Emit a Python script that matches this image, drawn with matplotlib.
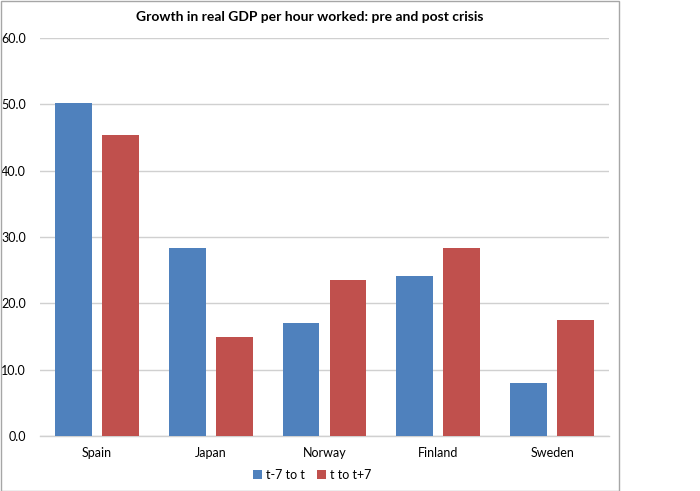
import matplotlib
matplotlib.use("Agg")
import matplotlib.pyplot as plt
import numpy as np
from matplotlib.patches import Rectangle

plt.rcParams['font.family'] = ['Lato', 'DejaVu Sans']

title = "Growth in real GDP per hour worked: pre and post crisis"
categories = ["Spain", "Japan", "Norway", "Finland", "Sweden"]
series_names = ["t-7 to t", "t to t+7"]
pre_values = [50.2, 28.3, 17.0, 24.1, 8.0]
post_values = [45.4, 14.9, 23.5, 28.3, 17.5]
colors = ["#4F81BD", "#C0504D"]
yticks = [0, 10, 20, 30, 40, 50, 60]

fig = plt.figure(figsize=(7.0, 4.91), dpi=100)
ax = fig.add_axes([40/700, 1-436/491, (609-40)/700, (436-38)/491])

x = np.arange(len(categories))
bw = 0.325
off = 0.2065
ax.bar(x - off, pre_values, width=bw, color=colors[0], label=series_names[0], zorder=3)
ax.bar(x + off, post_values, width=bw, color=colors[1], label=series_names[1], zorder=3)

ax.set_xlim(-0.5, len(categories) - 0.5)
ax.set_ylim(0, 60)
ax.set_yticks(yticks)
ax.set_yticklabels([f"{v:.1f}" for v in yticks])
ax.set_xticks(x)
ax.set_xticklabels(categories)
ax.tick_params(axis='both', length=0, labelsize=9, colors='#000000')
ax.tick_params(axis='y', pad=10)
ax.tick_params(axis='x', pad=8)
ax.yaxis.grid(True, color='#D0D0D0', linewidth=1.0, zorder=0)
ax.set_axisbelow(True)
for s in ['left', 'right', 'top']:
    ax.spines[s].set_visible(False)
ax.spines['bottom'].set_color('#D0D0D0')
ax.spines['bottom'].set_linewidth(1.0)

fig.text(310/700, 1-17/491, title, ha='center', va='center', fontsize=10, fontweight='bold')

handles, labels = ax.get_legend_handles_labels()
fig.legend(handles, labels, loc='center', bbox_to_anchor=(312/700, 1-475/491), ncol=2,
           frameon=False, fontsize=9, handlelength=0.7, handleheight=0.7,
           handletextpad=0.3, columnspacing=1.0)

fig.patches.append(Rectangle((0.5/700, 0.5/491), 618/700, 489.5/491, transform=fig.transFigure,
                             fill=False, edgecolor='#A6A6A6', linewidth=1.0))

fig.savefig("out.png", dpi=100)
